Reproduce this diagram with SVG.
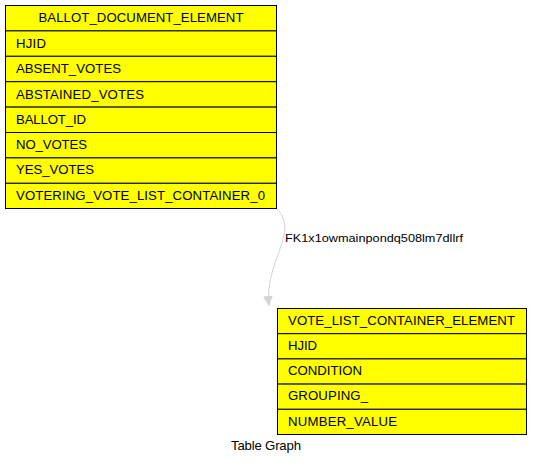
<svg xmlns="http://www.w3.org/2000/svg" width="533" height="466" viewBox="0 0 533 466">
<style>
.cell{fill:#ffff00;stroke:#000;stroke-width:1}
.t{font-family:"Liberation Sans",Arial,sans-serif;font-size:13.2px;fill:#000}
.c{text-anchor:middle}
.lbl{font-family:"Liberation Sans",Arial,sans-serif;font-size:11.2px;fill:#000}
.edge{fill:none;stroke:#d3d3d3;stroke-width:1}
</style>
<defs>
<marker id="arr" markerWidth="10" markerHeight="10" refX="10" refY="5" orient="auto" markerUnits="userSpaceOnUse">
<path d="M0,0 L10,5 L0,10 Z" fill="#d3d3d3"/>
</marker>
</defs>
<rect width="533" height="466" fill="#fff"/>
<g id="connectors">
<path class="edge" d="M277,209 C300,232 264,262 269,306" marker-end="url(#arr)"/>
<text class="lbl" x="285" y="242" textLength="178" lengthAdjust="spacingAndGlyphs">FK1x1owmainpondq508lm7dllrf</text>
</g>
<g id="BALLOT_DOCUMENT_ELEMENT">
<rect class="cell" x="5.5" y="5.5" width="271" height="25.4"/>
<rect class="cell" x="5.5" y="30.9" width="271" height="25.4"/>
<rect class="cell" x="5.5" y="56.3" width="271" height="25.4"/>
<rect class="cell" x="5.5" y="81.7" width="271" height="25.4"/>
<rect class="cell" x="5.5" y="107.1" width="271" height="25.4"/>
<rect class="cell" x="5.5" y="132.5" width="271" height="25.4"/>
<rect class="cell" x="5.5" y="157.9" width="271" height="25.4"/>
<rect class="cell" x="5.5" y="183.3" width="271" height="25.2"/>
<text class="t c" x="141" y="22" textLength="205">BALLOT_DOCUMENT_ELEMENT</text>
<text class="t" x="16" y="47.5" textLength="30">HJID</text>
<text class="t" x="16" y="73" textLength="105">ABSENT_VOTES</text>
<text class="t" x="16" y="98.5" textLength="128">ABSTAINED_VOTES</text>
<text class="t" x="16" y="123.5" textLength="70">BALLOT_ID</text>
<text class="t" x="16" y="149" textLength="71">NO_VOTES</text>
<text class="t" x="16" y="174" textLength="78">YES_VOTES</text>
<text class="t" x="16" y="199.5" textLength="249">VOTERING_VOTE_LIST_CONTAINER_0</text>
</g>
<g id="VOTE_LIST_CONTAINER_ELEMENT">
<rect class="cell" x="277.5" y="308.5" width="249" height="25.2"/>
<rect class="cell" x="277.5" y="333.7" width="249" height="25.2"/>
<rect class="cell" x="277.5" y="358.9" width="249" height="25.2"/>
<rect class="cell" x="277.5" y="384.1" width="249" height="25.2"/>
<rect class="cell" x="277.5" y="409.3" width="249" height="25.2"/>
<text class="t" x="288" y="325" textLength="227">VOTE_LIST_CONTAINER_ELEMENT</text>
<text class="t" x="288" y="350" textLength="29">HJID</text>
<text class="t" x="288" y="375" textLength="74">CONDITION</text>
<text class="t" x="288" y="400" textLength="80">GROUPING_</text>
<text class="t" x="288" y="425.5" textLength="109">NUMBER_VALUE</text>
</g>
<text class="t c" x="266" y="450" textLength="70">Table Graph</text>
</svg>
